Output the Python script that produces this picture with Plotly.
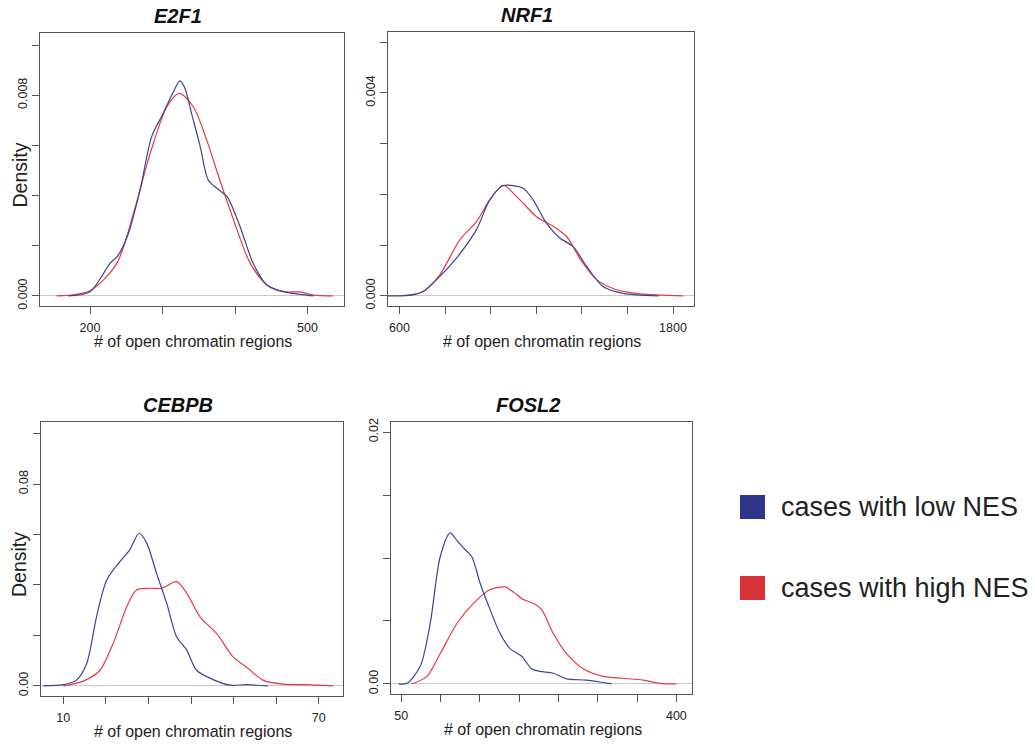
import plotly.graph_objects as go

W, H = 1035, 745

# ---------------- data ----------------
panel_titles = ["E2F1", "NRF1", "CEBPB", "FOSL2"]
series_names = ["cases with low NES", "cases with high NES"]

e2f1_low_x = [170, 200, 227.6, 239, 253, 269, 285, 301, 315, 324, 331, 340, 352, 363, 375, 389, 407, 425, 444, 467, 508]
e2f1_low_y = [0, 0.00017, 0.0013, 0.00163, 0.0025, 0.00422, 0.00635, 0.00728, 0.00814, 0.00857, 0.00827, 0.00728,
              0.00595, 0.00462, 0.00429, 0.00396, 0.00276, 0.0013, 0.00044, 0.00017, 0]
e2f1_high_x = [154, 200, 237, 260, 283, 306, 323, 342.5, 361, 379, 398, 421, 444, 467, 490, 508, 535]
e2f1_high_y = [0, 0.00021, 0.0013, 0.0033, 0.00568, 0.00754, 0.00807, 0.00754, 0.00621, 0.00462, 0.00303, 0.0013,
               0.00044, 0.00017, 0.00016, 0.00003, 0]

nrf1_low_x = [549, 658, 702, 776, 849, 937, 996, 1054, 1142, 1186, 1245, 1303, 1362, 1421, 1494, 1582, 1736]
nrf1_low_y = [0, 0.00002, 0.00008, 0.00038, 0.00074, 0.0013, 0.00189, 0.00217, 0.00212, 0.00189, 0.00143, 0.00114,
              0.00097, 0.00058, 0.00018, 0.00005, 0]
nrf1_high_x = [607, 702, 776, 864, 937, 996, 1054, 1113, 1201, 1274, 1333, 1391, 1465, 1553, 1655, 1845]
nrf1_high_y = [0, 0.00008, 0.00041, 0.0011, 0.00146, 0.00189, 0.00218, 0.00196, 0.00156, 0.00137, 0.00117, 0.00074,
               0.00032, 0.00012, 0.00004, 0]

cebpb_low_x = [5.3, 10, 13.1, 15.5, 17.8, 20.2, 23.3, 25.6, 27.8, 29.6, 31.9, 34.3, 36.6, 39.0, 41.3, 45.2, 49.1, 53.0, 58.1]
cebpb_low_y = [0, 0.0005, 0.0023, 0.0089, 0.0274, 0.042, 0.0493, 0.0539, 0.0605, 0.0566, 0.0446, 0.0327, 0.0195,
               0.0142, 0.0062, 0.0025, 0.0003, 0.0005, 0]
cebpb_high_x = [10, 14.7, 18.6, 21.7, 24.9, 27.2, 30.3, 33.1, 36.6, 39.0, 42.1, 46.0, 49.9, 53.0, 56.9, 61.6, 67.1, 73.4]
cebpb_high_y = [0, 0.0019, 0.0062, 0.0168, 0.0314, 0.038, 0.0387, 0.0387, 0.0413, 0.0367, 0.0274, 0.0208, 0.0115,
                0.0075, 0.0023, 0.0007, 0.0005, 0]

fosl2_low_x = [46.6, 57.2, 74.1, 86.8, 99.5, 112.2, 120.7, 129.1, 139.7, 150.3, 163.0, 175.7, 188.4, 203.2, 215.9,
               226.5, 243.4, 260.3, 285.7, 317.5]
fosl2_low_y = [0, 0.00005, 0.0014, 0.0048, 0.0101, 0.0120, 0.0114, 0.0108, 0.0101, 0.0080, 0.0059, 0.0040, 0.0028,
               0.0022, 0.0012, 0.0010, 0.00085, 0.0004, 0.0003, 0]
fosl2_high_x = [63.5, 82.6, 99.5, 120.7, 141.8, 163.0, 182.0, 192.6, 205.3, 218.0, 228.6, 243.4, 260.3, 281.5, 306.9,
                332.3, 357.7, 378.8, 400]
fosl2_high_y = [0, 0.0006, 0.0024, 0.0048, 0.0064, 0.0075, 0.0077, 0.0073, 0.0067, 0.0064, 0.0059, 0.0040, 0.0024,
                0.0012, 0.0006, 0.00045, 0.0003, 0.00005, 0]

# tick values / labels
x_tickvals = [[200, 300, 400, 500], [600, 800, 1000, 1200, 1400, 1600, 1800],
              [10, 20, 30, 40, 50, 60, 70], [50, 100, 150, 200, 250, 300, 350, 400]]
x_ticktext = [["200", "", "", "500"], ["600", "", "", "", "", "", "1800"],
              ["10", "", "", "", "", "", "70"], ["50", "", "", "", "", "", "", "400"]]
y_tickvals = [[0, 0.002, 0.004, 0.006, 0.008, 0.010], [0, 0.001, 0.002, 0.003, 0.004, 0.005],
              [0, 0.02, 0.04, 0.06, 0.08, 0.10], [0, 0.005, 0.010, 0.015, 0.020]]
y_ticktext = [["0.000", "", "", "", "0.008", ""], ["0.000", "", "", "", "0.004", ""],
              ["0.00", "", "", "", "0.08", ""], ["0.00", "", "", "", "0.02"]]

# ---------------- styling / layout ----------------
low_col = "#3a4399"
high_col = "#e8393f"
low_sq = "#2e3589"
high_sq = "#d83138"
font_fam = "Liberation Sans, Arial, sans-serif"

# plot boxes in pixels: (left, right, top, bottom)
boxes = [(40, 344, 33, 306), (388, 694, 32, 306), (41, 343, 422, 696), (391, 692, 422, 694)]
x_ranges = [[131, 550.3], [549.5, 1892], [4.76, 75.7], [36.9, 419.9]]
y_ranges = [[-0.0004, 0.01048], [-0.0002, 0.0052], [-0.004, 0.1046], [-0.0008, 0.0208]]

data = [
    (e2f1_low_x, e2f1_low_y, e2f1_high_x, e2f1_high_y),
    (nrf1_low_x, nrf1_low_y, nrf1_high_x, nrf1_high_y),
    (cebpb_low_x, cebpb_low_y, cebpb_high_x, cebpb_high_y),
    (fosl2_low_x, fosl2_low_y, fosl2_high_x, fosl2_high_y),
]

fig = go.Figure()
layout = dict(
    width=W, height=H, margin=dict(l=0, r=0, t=0, b=0, autoexpand=False),
    paper_bgcolor="white", plot_bgcolor="white", showlegend=False,
    font=dict(family=font_fam, color="#222222"),
)

annotations = []
shapes = []
for i, (lx, ly, hx, hy) in enumerate(data):
    k = "" if i == 0 else str(i + 1)
    xa, ya = "x" + k, "y" + k
    fig.add_trace(go.Scatter(x=hx, y=hy, mode="lines", xaxis=xa, yaxis=ya, name=series_names[1],
                             line=dict(color=high_col, width=1.2, shape="spline", smoothing=0.8)))
    fig.add_trace(go.Scatter(x=lx, y=ly, mode="lines", xaxis=xa, yaxis=ya, name=series_names[0],
                             line=dict(color=low_col, width=1.2, shape="spline", smoothing=0.8)))
    L, R, T, B = boxes[i]
    layout["xaxis" + k] = dict(
        domain=[L / W, R / W], range=x_ranges[i], anchor=ya, automargin=False,
        showline=True, mirror=True, linecolor="#555555", linewidth=1,
        showgrid=False, zeroline=False,
        ticks="outside", ticklen=7, tickcolor="#555555",
        tickvals=x_tickvals[i], ticktext=x_ticktext[i],
        tickfont=dict(size=12.5, color="#222222"), ticklabelstandoff=3,
    )
    layout["yaxis" + k] = dict(
        domain=[1 - B / H, 1 - T / H], range=y_ranges[i], anchor=xa, automargin=False,
        showline=True, mirror=True, linecolor="#555555", linewidth=1,
        showgrid=False, zeroline=True, zerolinecolor="#c8c8c8", zerolinewidth=1,
        ticks="outside", ticklen=7, tickcolor="#555555",
        tickvals=y_tickvals[i], ticktext=y_ticktext[i], tickangle=-90,
        tickfont=dict(size=12.5, color="#222222"),
    )
    # panel title
    cx = (L + R) / 2 - 14
    annotations.append(dict(text="<b><i>%s</i></b>" % panel_titles[i], x=cx / W, y=1 - (T - 17) / H,
                            xref="paper", yref="paper", showarrow=False, xanchor="center", yanchor="middle",
                            font=dict(size=20, color="#111111")))
    # x axis label
    annotations.append(dict(text="# of open chromatin regions", x=((L + R) / 2 + 1) / W, y=1 - (B + 35) / H,
                            xref="paper", yref="paper", showarrow=False, xanchor="center", yanchor="middle",
                            font=dict(size=16, color="#222222")))
    # y axis label for left column
    if i in (0, 2):
        annotations.append(dict(text="Density", x=19 / W, y=1 - ((T + B) / 2 + 6) / H, textangle=-90,
                                xref="paper", yref="paper", showarrow=False, xanchor="center", yanchor="middle",
                                font=dict(size=19.5, color="#222222")))

# legend (squares + labels)
legend_items = [(series_names[0], low_sq, 507), (series_names[1], high_sq, 588)]
for name, col, cy in legend_items:
    shapes.append(dict(type="rect", xref="paper", yref="paper",
                       x0=740 / W, x1=765 / W, y0=1 - (cy + 12) / H, y1=1 - (cy - 12) / H,
                       fillcolor=col, line=dict(width=0)))
    annotations.append(dict(text=name, x=779 / W, y=1 - cy / H, xref="paper", yref="paper",
                            showarrow=False, xanchor="left", yanchor="middle",
                            font=dict(size=27, color="#222222")))

layout["annotations"] = annotations
layout["shapes"] = shapes
fig.update_layout(**layout)
fig.write_html("out.html", config={"displayModeBar": False},
               post_script="document.body.style.margin='0px';")
